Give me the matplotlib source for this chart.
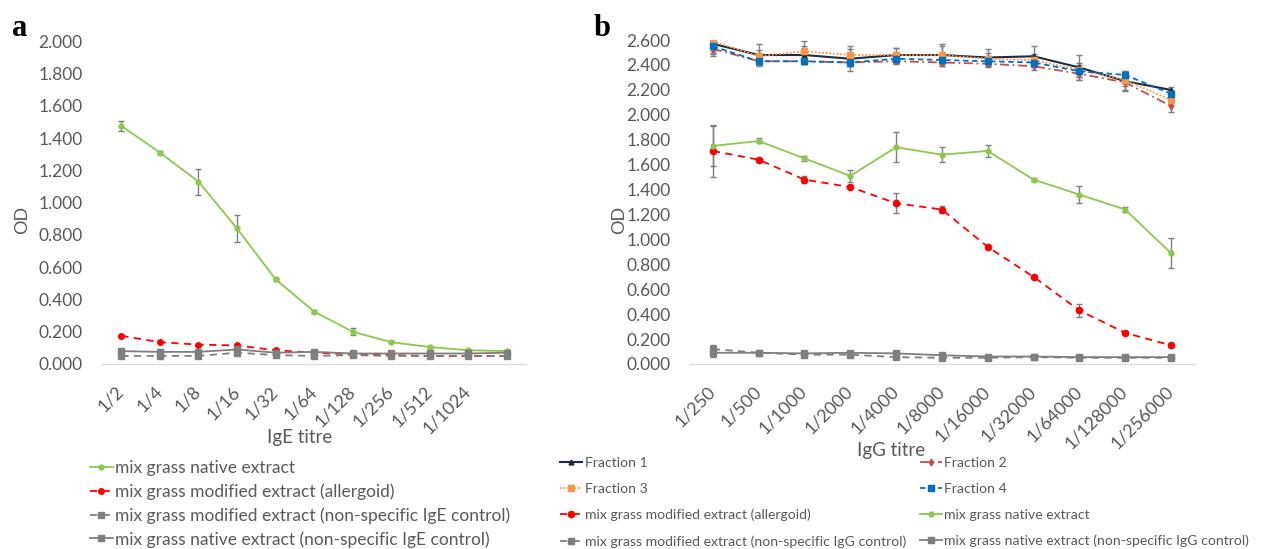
import matplotlib.pyplot as plt

# ---- panel a (IgE) ----
ige_labels = ["1/2", "1/4", "1/8", "1/16", "1/32", "1/64", "1/128", "1/256", "1/512", "1/1024", ""]
ige_native = [1.475, 1.31, 1.13, 0.84, 0.525, 0.325, 0.20, 0.135, 0.105, 0.085, 0.08]
ige_native_err = [0.03, 0.01, 0.08, 0.085, 0.01, 0.01, 0.02, 0.005, 0.005, 0.005, 0.005]
ige_allergoid = [0.175, 0.135, 0.12, 0.115, 0.085, 0.07, 0.06, 0.055, 0.05, 0.05, 0.05]
ige_allergoid_err = [0.005, 0.005, 0.005, 0.005, 0.005, 0.005, 0.005, 0.005, 0.005, 0.005, 0.005]
ige_mod_ns = [0.05, 0.05, 0.05, 0.07, 0.055, 0.05, 0.055, 0.05, 0.05, 0.05, 0.05]
ige_mod_ns_err = [0.01, 0.005, 0.005, 0.01, 0.005, 0.005, 0.005, 0.005, 0.005, 0.005, 0.005]
ige_nat_ns = [0.08, 0.075, 0.075, 0.09, 0.07, 0.075, 0.065, 0.065, 0.065, 0.065, 0.07]
ige_nat_ns_err = [0.015, 0.01, 0.01, 0.015, 0.01, 0.01, 0.01, 0.005, 0.01, 0.01, 0.01]

# ---- panel b (IgG) ----
igg_labels = ["1/250", "1/500", "1/1000", "1/2000", "1/4000", "1/8000", "1/16000",
              "1/32000", "1/64000", "1/128000", "1/256000"]
frac1 = [2.57, 2.48, 2.48, 2.45, 2.48, 2.48, 2.46, 2.47, 2.38, 2.27, 2.20]
frac1_err = [0.10, 0.09, 0.07, 0.10, 0.06, 0.09, 0.07, 0.08, 0.10, 0.08, 0.02]
frac2 = [2.53, 2.43, 2.43, 2.42, 2.43, 2.42, 2.41, 2.39, 2.33, 2.26, 2.07]
frac2_err = [0.04, 0.03, 0.02, 0.03, 0.02, 0.03, 0.03, 0.03, 0.05, 0.06, 0.05]
frac3 = [2.59, 2.47, 2.51, 2.48, 2.48, 2.48, 2.45, 2.44, 2.36, 2.28, 2.12]
frac3_err = [0.09, 0.05, 0.08, 0.05, 0.06, 0.07, 0.05, 0.05, 0.06, 0.05, 0.04]
frac4 = [2.55, 2.43, 2.43, 2.42, 2.45, 2.44, 2.43, 2.42, 2.35, 2.32, 2.17]
frac4_err = [0.04, 0.03, 0.02, 0.03, 0.03, 0.03, 0.04, 0.04, 0.05, 0.03, 0.03]
igg_native = [1.75, 1.79, 1.65, 1.51, 1.74, 1.68, 1.71, 1.48, 1.36, 1.24, 0.89]
igg_native_err = [0.16, 0.02, 0.02, 0.05, 0.12, 0.06, 0.05, 0.01, 0.07, 0.02, 0.12]
igg_allergoid = [1.71, 1.64, 1.48, 1.42, 1.29, 1.24, 0.94, 0.70, 0.43, 0.25, 0.15]
igg_allergoid_err = [0.21, 0.01, 0.03, 0.01, 0.08, 0.03, 0.01, 0.01, 0.05, 0.01, 0.01]
igg_mod_ns = [0.12, 0.09, 0.075, 0.075, 0.055, 0.05, 0.05, 0.055, 0.05, 0.05, 0.05]
igg_mod_ns_err = [0.03, 0.01, 0.01, 0.01, 0.01, 0.01, 0.01, 0.01, 0.01, 0.01, 0.01]
igg_nat_ns = [0.09, 0.09, 0.085, 0.09, 0.085, 0.07, 0.06, 0.06, 0.055, 0.055, 0.055]
igg_nat_ns_err = [0.03, 0.01, 0.01, 0.01, 0.01, 0.01, 0.01, 0.01, 0.01, 0.01, 0.01]

GREEN = "#8cc84b"
RED = "#ff0000"
GRAY = "#7f7f7f"
TXT = "#595959"

plt.rcParams["font.family"] = ["Lato", "DejaVu Sans"]


def draw(ax, y, err, label, color, ls, marker, ms, lw=1.3):
    x = list(range(len(y)))
    ax.errorbar(x, y, yerr=err, color=color, ls=ls, lw=lw, marker=marker, ms=ms,
                ecolor="#7f7f7f", elinewidth=1, capsize=2.5, capthick=1, label=label)


def style_axis(ax, labels, ymax, yticks, xlabel):
    ax.set_xlim(-0.5, len(labels) - 0.5)
    ax.set_ylim(0, ymax)
    ax.set_yticks(yticks)
    ax.set_yticklabels([f"{t:.3f}" for t in yticks], fontsize=12.5, color=TXT)
    ax.set_xticks(range(len(labels)))
    ax.set_xticklabels(labels, rotation=45, ha="right", va="center", rotation_mode="anchor",
                       fontsize=13, color=TXT)
    for s in ["top", "right", "left"]:
        ax.spines[s].set_visible(False)
    ax.spines["bottom"].set_color("#d9d9d9")
    ax.tick_params(axis="y", length=0, pad=14)
    ax.tick_params(axis="x", length=0, pad=18)
    ax.set_ylabel("OD", fontsize=13, color=TXT)
    ax.set_xlabel(xlabel, fontsize=13.5, color=TXT)


fig = plt.figure(figsize=(12.66, 5.49), dpi=100)

# panel a
ax1 = fig.add_axes([0.0806, 0.337, 0.335, 0.588])
draw(ax1, ige_native, ige_native_err, "mix grass native extract", GREEN, "-", "o", 3.5)
draw(ax1, ige_allergoid, ige_allergoid_err, "mix grass modified extract (allergoid)", RED, (0, (4, 3)), "o", 4)
draw(ax1, ige_mod_ns, ige_mod_ns_err, "mix grass modified extract (non-specific IgE control)", GRAY, (0, (4, 3)), "s", 4)
draw(ax1, ige_nat_ns, ige_nat_ns_err, "mix grass native extract (non-specific IgE control)", GRAY, "-", "s", 4)
style_axis(ax1, ige_labels, 2.0, [i * 0.2 for i in range(11)], "IgE titre")
ax1.yaxis.set_label_coords(-0.17, 0.446)
ax1.xaxis.set_label_coords(0.465, -0.20)
h1, l1 = ax1.get_legend_handles_labels()
fig.legend([h[0] for h in h1], l1, loc="upper left", bbox_to_anchor=(90 / 1266, 1 - 460 / 549),
           frameon=False, fontsize=12.5, labelcolor=TXT, handlelength=1.3, handletextpad=0.15,
           labelspacing=0.42, borderaxespad=0, borderpad=0)

# panel b
ax2 = fig.add_axes([0.545, 0.337, 0.398, 0.590])
draw(ax2, frac1, frac1_err, "Fraction 1", "#1f2a44", "-", "^", 3.5, lw=1.5)
draw(ax2, frac2, frac2_err, "Fraction 2", "#c0504d", (0, (5, 2, 1, 2)), "d", 3.5)
draw(ax2, frac3, frac3_err, "Fraction 3", "#f79646", (0, (1, 1)), "s", 4.5)
draw(ax2, frac4, frac4_err, "Fraction 4", "#0070c0", (0, (3, 2)), "s", 4.5)
draw(ax2, igg_allergoid, igg_allergoid_err, "mix grass modified extract (allergoid)", RED, (0, (4, 3)), "o", 4.5)
draw(ax2, igg_native, igg_native_err, "mix grass native extract", GREEN, "-", "o", 3.5)
draw(ax2, igg_mod_ns, igg_mod_ns_err, "mix grass modified extract (non-specific IgG control)", GRAY, (0, (4, 3)), "s", 4.5)
draw(ax2, igg_nat_ns, igg_nat_ns_err, "mix grass native extract (non-specific IgG control)", GRAY, "-", "s", 4.5)
style_axis(ax2, igg_labels, 2.6, [i * 0.2 for i in range(14)], "IgG titre")
ax2.yaxis.set_label_coords(-0.125, 0.446)
ax2.xaxis.set_label_coords(0.40, -0.24)
h2, l2 = ax2.get_legend_handles_labels()
order = [0, 2, 4, 6, 1, 3, 5, 7]
fig.legend([h2[i][0] for i in order], [l2[i] for i in order], loc="upper left", ncol=2,
           bbox_to_anchor=(560 / 1266, 1 - 457 / 549), frameon=False, fontsize=10.1,
           labelcolor=TXT, handlelength=1.6, handletextpad=0.15, labelspacing=0.99,
           columnspacing=1.0, borderaxespad=0, borderpad=0)

fig.text(12 / 1266, 1 - 36 / 549, "a", fontsize=22, fontweight="bold", family="Liberation Serif")
fig.text(594 / 1266, 1 - 36 / 549, "b", fontsize=22, fontweight="bold", family="Liberation Serif")

fig.savefig("out.png", dpi=100)
